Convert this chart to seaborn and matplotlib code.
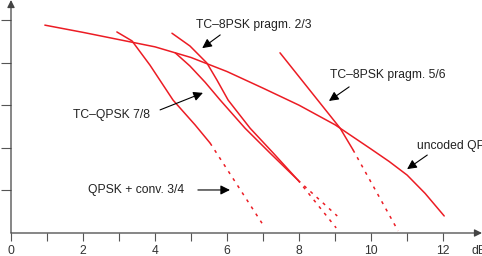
import matplotlib
matplotlib.use("Agg")
import matplotlib.pyplot as plt
import seaborn as sns

# BER-kurven (y in Dekaden über der Achse, x in dB)
uncoded_x = [0.94, 2.0, 3.0, 4.0, 5.0, 6.0, 7.0, 8.0, 9.0, 10.0, 10.5, 11.0, 11.5, 12.03]
uncoded_y = [4.88, 4.71, 4.54, 4.37, 4.12, 3.79, 3.40, 3.00, 2.54, 1.97, 1.68, 1.36, 0.93, 0.40]

conv_x = [2.94, 3.36, 3.86, 4.50, 5.11, 5.53]
conv_y = [4.72, 4.51, 3.94, 3.12, 2.54, 2.11]
conv_dash_x = [5.53, 6.97]
conv_dash_y = [2.11, 0.23]

qpsk78_x = [4.56, 4.97, 5.39, 5.81, 6.50, 7.19, 7.97]
qpsk78_y = [4.23, 3.92, 3.54, 3.12, 2.46, 1.88, 1.24]
qpsk78_dash_x = [7.97, 9.06]
qpsk78_dash_y = [1.24, 0.40]

psk23_x = [4.47, 4.97, 5.44, 5.72, 6.03, 6.64, 7.28, 7.97]
psk23_y = [4.69, 4.39, 3.99, 3.59, 3.12, 2.46, 1.88, 1.24]
psk23_dash_x = [7.97, 9.03]
psk23_dash_y = [1.24, 0.12]

psk56_x = [7.47, 9.14, 9.50]
psk56_y = [4.23, 2.46, 1.95]
psk56_dash_x = [9.50, 10.75]
psk56_dash_y = [1.95, 0.05]

x_ticks = list(range(0, 13))
x_labels = [str(t) if t % 2 == 0 else "" for t in x_ticks]
y_ticks = [1, 2, 3, 4, 5]

sns.set_theme(style="white")
plt.rcParams["font.family"] = ["Liberation Sans", "DejaVu Sans"]

RED = "#ec1c24"
DASH = (0, (2.0, 3.5))
FS = 8.7

fig = plt.figure(figsize=(4.82, 2.56), dpi=100)
ax = fig.add_axes([11 / 482, 23 / 256, 471 / 482, 233 / 256])

solid = [(uncoded_x, uncoded_y), (conv_x, conv_y), (qpsk78_x, qpsk78_y),
         (psk23_x, psk23_y), (psk56_x, psk56_y)]
dashed = [(conv_dash_x, conv_dash_y), (qpsk78_dash_x, qpsk78_dash_y),
          (psk23_dash_x, psk23_dash_y), (psk56_dash_x, psk56_dash_y)]

for xs, ys in solid:
    sns.lineplot(x=xs, y=ys, ax=ax, color=RED, lw=1.1, sort=False,
                 estimator=None, errorbar=None)
for xs, ys in dashed:
    sns.lineplot(x=xs, y=ys, ax=ax, color=RED, lw=1.1, sort=False,
                 estimator=None, errorbar=None, linestyle=DASH)

ax.set_xlim(0, 13.08)
ax.set_ylim(0, 5.47)
for s in ax.spines.values():
    s.set_visible(False)

ax.set_xticks(x_ticks)
ax.set_xticklabels(x_labels)
ax.set_yticks(y_ticks)
ax.set_yticklabels([])
ax.tick_params(axis="x", direction="out", length=6, width=0.8, color="#555555",
               labelsize=FS, labelcolor="#333333", pad=3, bottom=True)
ax.tick_params(axis="y", direction="out", length=7, width=0.8, color="#555555",
               left=True)
ax.set_xlabel("")
ax.set_ylabel("")

# Achsen mit Pfeilspitzen
axis_arrow = dict(arrowstyle="-|>", color="#444444", lw=0.9, mutation_scale=11,
                  shrinkA=0, shrinkB=0)
ax.annotate("", xy=(13.08, 0), xytext=(0, 0), arrowprops=axis_arrow,
            annotation_clip=False)
ax.annotate("", xy=(0, 5.47), xytext=(0, 0), arrowprops=axis_arrow,
            annotation_clip=False)

ax.text(12.78, -0.42, "dB", fontsize=FS, color="#333333", va="center",
        ha="left", clip_on=False)

lbl = dict(arrowstyle="-|>", color="black", lw=0.8, mutation_scale=14,
           shrinkA=0, shrinkB=0)
tkw = dict(fontsize=FS, color="#222222", va="center", ha="left")

ax.text(5.14, 4.88, "TC–8PSK pragm. 2/3", **tkw)
ax.annotate("", xy=(5.31, 4.34), xytext=(5.81, 4.65), arrowprops=lbl)

ax.text(8.86, 3.71, "TC–8PSK pragm. 5/6", **tkw)
ax.annotate("", xy=(8.83, 3.10), xytext=(9.39, 3.43), arrowprops=lbl)

ax.text(1.72, 2.77, "TC–QPSK 7/8", **tkw)
ax.annotate("", xy=(5.33, 3.29), xytext=(4.14, 2.89), arrowprops=lbl)

ax.text(2.14, 1.01, "QPSK + conv. 3/4", **tkw)
ax.annotate("", xy=(6.08, 1.01), xytext=(5.19, 1.01), arrowprops=lbl)

ax.text(11.28, 2.04, "uncoded QPSK", clip_on=False, **tkw)
ax.annotate("", xy=(11.0, 1.50), xytext=(11.56, 1.83), arrowprops=lbl)

fig.savefig("out.png", dpi=100)
